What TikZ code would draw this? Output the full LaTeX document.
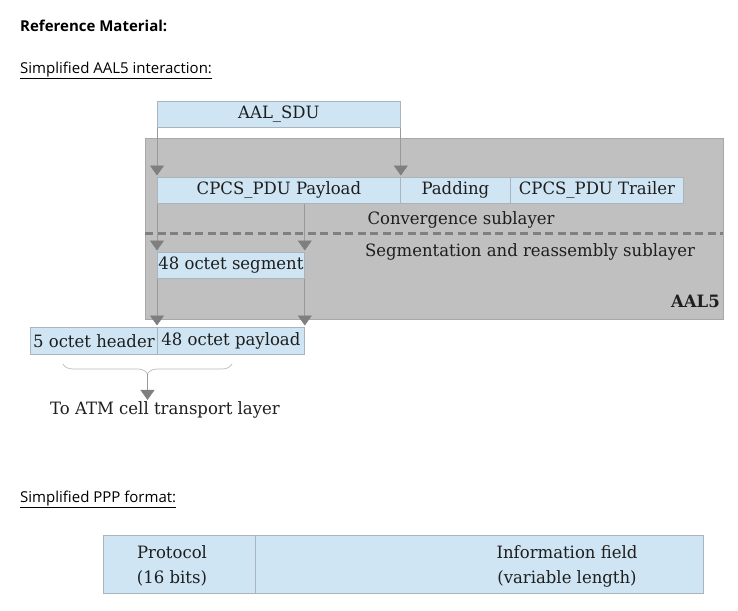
\documentclass[tikz,border=0pt]{standalone}
\usepackage{fontspec}
\setmainfont{DejaVu Serif}[FakeStretch=0.97]
\newfontfamily\hdr{Open Sans}
\usetikzlibrary{arrows.meta,decorations.pathreplacing}
\definecolor{cell}{HTML}{CFE5F3}
\definecolor{cellb}{HTML}{A9B4BC}
\definecolor{aal}{HTML}{C0C0C0}
\definecolor{aalb}{HTML}{A8A8A8}
\definecolor{arr}{HTML}{7F7F7F}
\definecolor{conncol}{HTML}{999999}
\definecolor{dashcol}{HTML}{808080}
\definecolor{txt}{HTML}{1E1E1E}
\begin{document}
\begin{tikzpicture}[x=1pt,y=-1pt,
  font=\fontsize{17}{20}\selectfont, text=txt,
  cellbox/.style={draw=cellb, fill=cell, line width=0.8pt, inner sep=0pt, anchor=north west},
  conn/.style={draw=conncol, line width=0.8pt},
  tri/.style={conn, -{Triangle[width=14pt,length=10pt,fill=arr,color=arr]}, shorten >=1.5pt},
  hdrtext/.style={font=\hdr\fontsize{15}{17}\selectfont, text=black, anchor=base west, inner sep=0pt},
  lbl/.style={inner sep=0pt}]
\useasboundingbox (0,0) rectangle (738,610);

% headers
\node[hdrtext, font=\hdr\bfseries\fontsize{15}{17}\selectfont] (h1) at (20,32) {Reference Material:};
\node[hdrtext] (h2) at (20,73) {\underline{Simplified AAL5 interaction:}};
\node[hdrtext] (h3) at (20,502) {\underline{Simplified PPP format:}};

% AAL5 container
\node[draw=aalb, fill=aal, line width=0.8pt, inner sep=0pt, anchor=north west,
      minimum width=578pt, minimum height=181pt] (aal5) at (145,138) {};
\node[lbl, anchor=east, font=\bfseries\fontsize{17}{20}\selectfont] (aaltag) at (720,301) {AAL5};

% cells
\node[cellbox, minimum width=243pt, minimum height=26pt] (sdu) at (157,101) {AAL\_SDU};
\node[cellbox, minimum width=243pt, minimum height=26pt] (pay) at (157,177) {CPCS\_PDU Payload};
\node[cellbox, minimum width=110pt, minimum height=26pt] (pad) at (400,177) {Padding};
\node[cellbox, minimum width=173pt, minimum height=26pt] (trl) at (510,177) {CPCS\_PDU Trailer};
\node[cellbox, minimum width=147pt, minimum height=26pt] (seg) at (157,252) {48 octet segment};
\node[cellbox, minimum width=127pt, minimum height=27pt] (hdrc) at (30,327) {5 octet header};
\node[cellbox, minimum width=147pt, minimum height=27pt] (pl) at (157,327) {48 octet payload};

% sublayer labels and divider
\node[lbl] (conv) at (461,220) {Convergence sublayer};
\node[lbl] (sar) at (530,252) {Segmentation and reassembly sublayer};
\coordinate (dl) at (145,233);
\coordinate (dr) at (723,233);
\draw[draw=dashcol, line width=3pt, dash pattern=on 8pt off 4.5pt] (dl) -- (dr);

% connectors
\draw[tri] (sdu.south west) -- (pay.north west);
\draw[tri] (sdu.south east) -- (pay.north east);
\draw[tri] (pay.south west) -- (seg.north west);
\draw[tri] (seg.north east |- pay.south) -- (seg.north east);
\draw[tri] (seg.south west) -- (pl.north west);
\draw[tri] (seg.south east) -- (pl.north east);

% brace to ATM layer
\draw[decorate, decoration={brace, mirror, amplitude=10pt}, draw=gray!55, line width=0.7pt]
  (63,364) -- (232,364);
\coordinate (bt) at (147.5,374);
\node[lbl] (atm) at (165,410) {To ATM cell transport layer};
\draw[tri] (bt) -- (bt |- atm.north);

% PPP format
\node[cellbox, minimum width=152pt, minimum height=58pt] (proto) at (103,535) {};
\node[cellbox, minimum width=448pt, minimum height=58pt] (info) at (255,535) {};
\node[lbl, align=center, font=\fontsize{17}{25}\selectfont] (ptxt) at (172,566) {Protocol\\(16 bits)};
\node[lbl, align=center, font=\fontsize{17}{25}\selectfont] (itxt) at (567,566) {Information field\\(variable length)};
\end{tikzpicture}
\end{document}
